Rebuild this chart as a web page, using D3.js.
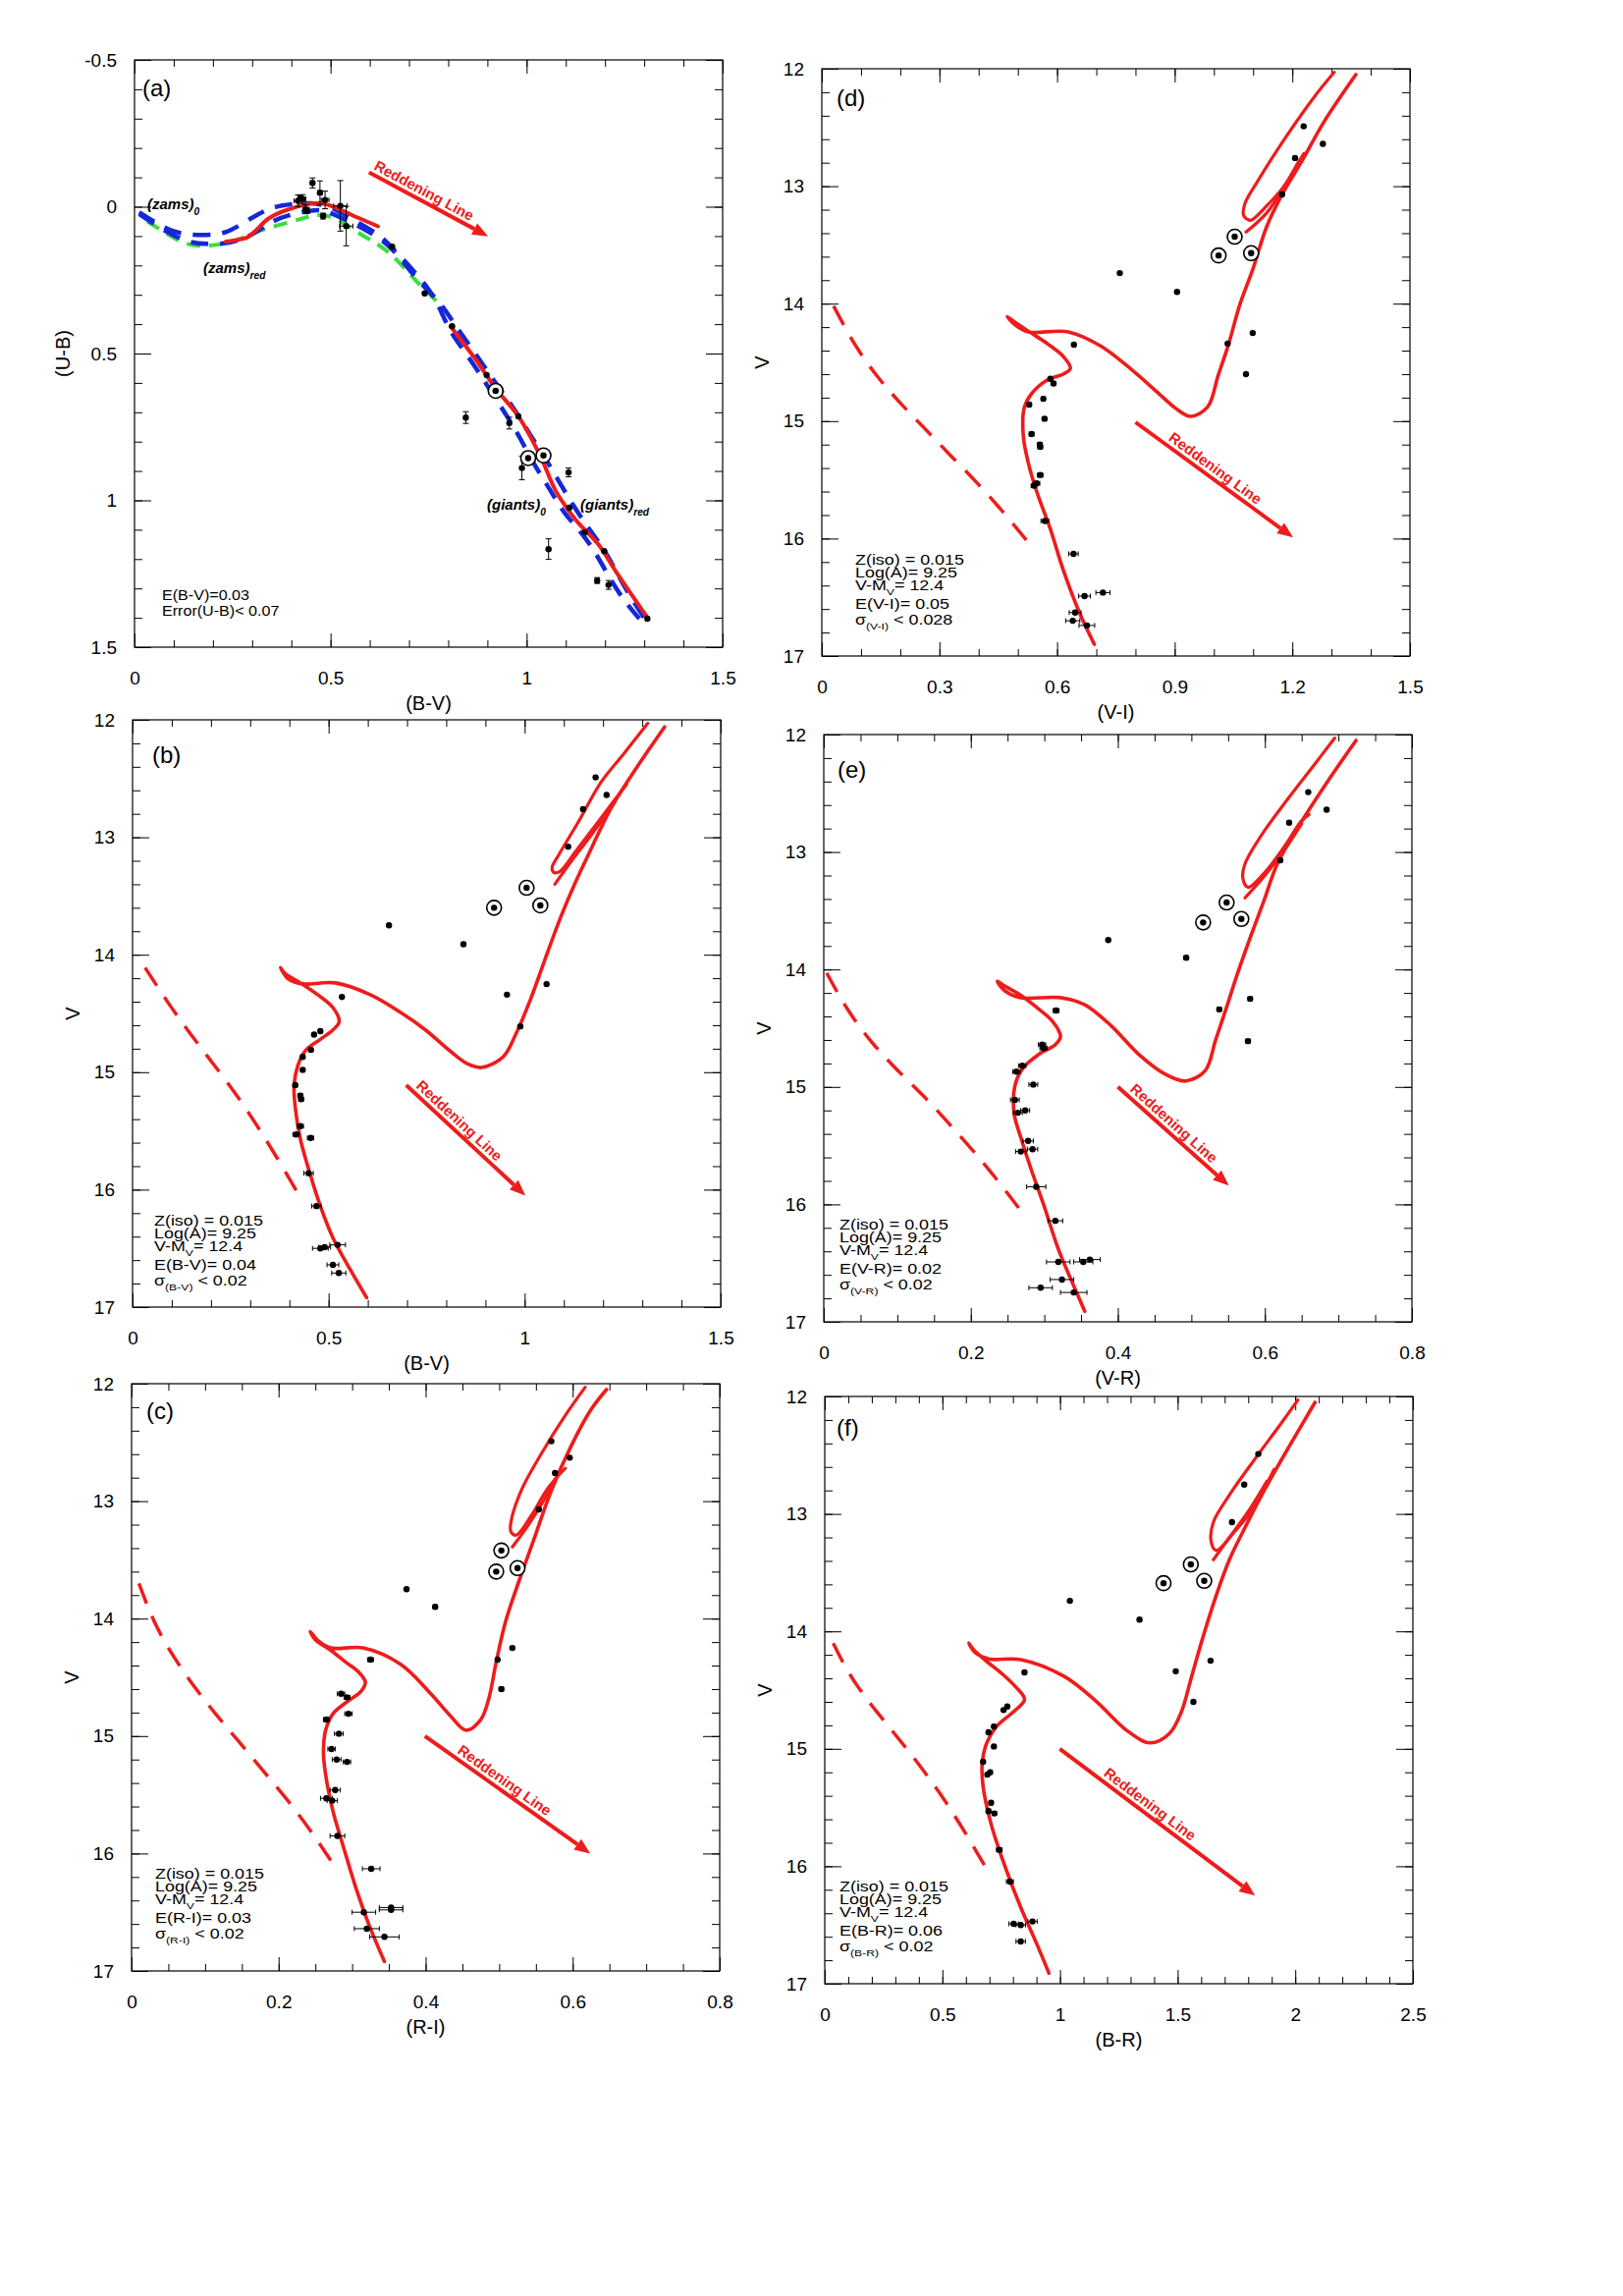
<!DOCTYPE html>
<html lang="en">
<head>
<meta charset="UTF-8">
<title>Two-colour and colour-magnitude diagrams</title>
<script src="https://d3js.org/d3.v7.min.js"></script>
<style>
  body { margin: 0; background: #fff; overflow: hidden; }
  text { font-family: "Liberation Sans", Arial, sans-serif; }
</style>
</head>
<body>
<svg width="1653" height="2338"></svg>
<script>
// ---------- panel (a): (U-B) vs (B-V) ----------
var zams0A = [[0.012,0.019],[0.045,0.047],[0.091,0.083],[0.133,0.095],[0.183,0.097],[0.229,0.093],[0.275,0.058],[0.316,0.024],[0.354,0.0],[0.4,-0.009],[0.45,-0.014],[0.5,-0.003],[0.567,0.052],[0.625,0.095],[0.65,0.13],[0.7,0.2],[0.755,0.285],[0.78,0.35],[0.806,0.43],[0.857,0.52],[0.902,0.614],[0.947,0.706],[0.985,0.79],[1.017,0.875],[1.062,0.967],[1.094,1.043],[1.138,1.105],[1.177,1.18],[1.215,1.273],[1.253,1.35],[1.298,1.419]];
var zams0bA = [[0.012,0.025],[0.05,0.06],[0.1,0.1],[0.15,0.125],[0.183,0.127],[0.229,0.127],[0.266,0.114],[0.291,0.102],[0.33,0.07],[0.354,0.047],[0.4,0.025],[0.45,0.013],[0.483,0.008],[0.55,0.052],[0.6,0.085],[0.66,0.14],[0.717,0.247],[0.78,0.323],[0.82,0.41],[0.87,0.5],[0.92,0.6],[0.97,0.69],[1.01,0.78],[1.045,0.85],[1.08,0.93],[1.12,1.02],[1.16,1.1],[1.2,1.17],[1.235,1.26],[1.27,1.34],[1.31,1.42]];
var zamsRedA = [[0.033,0.05],[0.08,0.09],[0.124,0.125],[0.162,0.136],[0.216,0.13],[0.266,0.114],[0.316,0.08],[0.4,0.052],[0.45,0.03],[0.5,0.024],[0.567,0.088],[0.62,0.125],[0.667,0.175],[0.717,0.253],[0.755,0.3],[0.793,0.354]];
var isoMsA = [[0.233,0.119],[0.265,0.112],[0.287,0.105],[0.31,0.08],[0.341,0.041],[0.391,0.01],[0.475,-0.012],[0.567,0.036],[0.621,0.067]];
var isoGiantA = [[0.806,0.407],[0.87,0.52],[0.92,0.617],[0.979,0.714],[1.036,0.852],[1.074,0.967],[1.125,1.066],[1.183,1.15],[1.228,1.243],[1.31,1.403]];
// [B-V, U-B, err(B-V), err(U-B)]
var starsA = [[0.417,-0.02,0.01,0.02],[0.429,-0.026,0.008,0.015],[0.423,-0.03,0.006,0.01],[0.436,0.009,0.005,0.015],[0.44,0.013,0,0.01],[0.454,-0.081,0.005,0.017],[0.473,-0.048,0.006,0.04],[0.486,-0.023,0.01,0.03],[0.481,0.032,0,0.01],[0.525,-0.003,0.017,0.086],[0.54,0.066,0.017,0.067],[0.657,0.136,0,0],[0.74,0.295,0,0],[0.81,0.407,0,0],[0.845,0.718,0,0.02],[0.898,0.573,0,0],[0.956,0.737,0,0.02],[0.979,0.714,0,0],[0.988,0.89,0,0.04],[1.056,1.166,0,0.035],[1.107,0.905,0,0.015],[1.109,1.025,0,0],[1.149,1.109,0,0],[1.18,1.273,0,0.01],[1.198,1.173,0,0],[1.209,1.288,0,0.015],[1.308,1.403,0,0]];
var clumpA = [[0.921,0.627],[1.004,0.856],[1.043,0.847]];
var arrowA = [[0.598,-0.117],[0.902,0.101]];
var xTicksA = [0, 0.5, 1, 1.5];
var yTicksA = [-0.5, 0, 0.5, 1, 1.5];
var noteA = ["E(B-V)=0.03", "Error(U-B)< 0.07"];

// ---------- common V axis ----------
var vTicks = [12, 13, 14, 15, 16, 17];

// ---------- panel (b): V vs (B-V) ----------
var isoB = [[0.597,16.92],[0.555,16.68],[0.511,16.41],[0.479,16.14],[0.453,15.87],[0.428,15.57],[0.415,15.30],[0.412,15.11],[0.421,14.95],[0.44,14.82],[0.479,14.72],[0.511,14.64],[0.527,14.57],[0.511,14.45],[0.472,14.34],[0.428,14.24],[0.389,14.16],[0.377,14.11],[0.395,14.2],[0.415,14.235],[0.44,14.25],[0.517,14.24],[0.606,14.34],[0.683,14.49],[0.747,14.64],[0.81,14.82],[0.855,14.93],[0.89,14.96],[0.945,14.87],[0.977,14.68],[1.015,14.38],[1.053,14.03],[1.092,13.68],[1.13,13.38],[1.168,13.11],[1.219,12.76],[1.283,12.42],[1.357,12.06]];
var loopB = [[1.314,12.03],[1.255,12.28],[1.195,12.53],[1.137,12.87],[1.087,13.15],[1.07,13.26],[1.075,13.30],[1.09,13.29],[1.13,13.12],[1.18,12.9],[1.23,12.68],[1.26,12.55]];
var tailB = [[1.077,13.40],[1.12,13.2],[1.17,12.98],[1.23,12.7]];
var zamsB = [[0.032,14.11],[0.1,14.46],[0.16,14.73],[0.22,14.99],[0.28,15.26],[0.33,15.52],[0.38,15.79],[0.43,16.08]];
var starsB = [[1.181,12.49,0],[1.209,12.64,0],[1.149,12.76,0],[1.111,13.08,0],[0.654,13.75,0],[0.844,13.91,0],[1.056,14.25,0],[0.955,14.34,0],[0.989,14.61,0],[0.534,14.36,0],[0.479,14.65,0.004],[0.463,14.68,0.004],[0.455,14.81,0.005],[0.434,14.87,0.005],[0.434,14.98,0.005],[0.415,15.11,0.005],[0.428,15.20,0.006],[0.43,15.23,0.006],[0.428,15.46,0.008],[0.417,15.53,0.008],[0.454,15.56,0.008],[0.449,15.86,0.012],[0.469,16.14,0.012],[0.479,16.50,0.02],[0.49,16.49,0.015],[0.523,16.47,0.02],[0.511,16.64,0.015],[0.526,16.71,0.018]];
var clumpB = [[1.005,13.43],[1.04,13.58],[0.922,13.60]];
var arrowB = [[0.698,15.11],[1.002,16.05]];
var xTicksB = [0, 0.5, 1, 1.5];
var noteB = ["Z(iso) = 0.015", "Log(A)= 9.25", "V-M_{V}= 12.4", "E(B-V)= 0.04", "σ_{(B-V)} < 0.02"];

// ---------- panel (c): V vs (R-I) ----------
var isoC = [[0.344,16.92],[0.325,16.64],[0.305,16.29],[0.288,15.94],[0.274,15.64],[0.264,15.33],[0.261,15.14],[0.264,14.95],[0.274,14.81],[0.295,14.70],[0.312,14.62],[0.318,14.54],[0.308,14.45],[0.291,14.37],[0.271,14.27],[0.25,14.18],[0.243,14.11],[0.254,14.19],[0.271,14.25],[0.315,14.25],[0.366,14.39],[0.407,14.64],[0.434,14.83],[0.455,14.95],[0.475,14.86],[0.486,14.68],[0.496,14.37],[0.509,14.02],[0.527,13.68],[0.547,13.33],[0.571,12.91],[0.598,12.53],[0.625,12.22],[0.646,12.05]];
var loopC = [[0.617,12.03],[0.591,12.26],[0.557,12.60],[0.53,12.91],[0.516,13.18],[0.516,13.26],[0.523,13.29],[0.544,13.12],[0.564,12.91],[0.581,12.78],[0.59,12.72]];
var tailC = [[0.518,13.39],[0.54,13.2],[0.56,13.0],[0.578,12.79]];
var zamsC = [[0.01,13.70],[0.029,14.02],[0.056,14.32],[0.085,14.58],[0.115,14.82],[0.145,15.04],[0.177,15.28],[0.209,15.52],[0.24,15.77],[0.271,16.06]];
var starsC = [[0.571,12.49,0],[0.596,12.63,0],[0.576,12.76,0],[0.554,13.07,0],[0.374,13.75,0],[0.413,13.90,0.003],[0.518,14.25,0],[0.498,14.35,0],[0.503,14.60,0.003],[0.325,14.35,0.004],[0.285,14.64,0.005],[0.293,14.67,0.004],[0.295,14.81,0.005],[0.265,14.86,0.004],[0.282,14.98,0.006],[0.272,15.11,0.005],[0.279,15.20,0.006],[0.293,15.22,0.005],[0.277,15.46,0.007],[0.265,15.53,0.008],[0.273,15.55,0.007],[0.28,15.85,0.01],[0.326,16.13,0.012],[0.353,16.46,0.016],[0.353,16.48,0.016],[0.316,16.50,0.016],[0.32,16.64,0.017],[0.344,16.71,0.02]];
var clumpC = [[0.503,13.42],[0.525,13.57],[0.496,13.60]];
var arrowC = [[0.399,15.00],[0.624,16.00]];
var xTicksC = [0, 0.2, 0.4, 0.6, 0.8];
var noteC = ["Z(iso) = 0.015", "Log(A)= 9.25", "V-M_{V}= 12.4", "E(R-I)= 0.03", "σ_{(R-I)} < 0.02"];

// ---------- panel (d): V vs (V-I) ----------
var isoD = [[0.695,16.90],[0.657,16.63],[0.616,16.27],[0.582,15.91],[0.548,15.60],[0.527,15.36],[0.514,15.13],[0.516,14.89],[0.534,14.77],[0.575,14.65],[0.616,14.60],[0.634,14.55],[0.616,14.45],[0.575,14.34],[0.534,14.25],[0.493,14.16],[0.473,14.11],[0.493,14.18],[0.527,14.24],[0.629,14.24],[0.711,14.36],[0.793,14.57],[0.861,14.77],[0.902,14.89],[0.94,14.96],[0.984,14.88],[1.011,14.61],[1.038,14.34],[1.065,14.02],[1.1,13.70],[1.134,13.35],[1.174,13.07],[1.222,12.80],[1.283,12.44],[1.362,12.05]];
var loopD = [[1.307,12.03],[1.256,12.24],[1.188,12.56],[1.113,12.95],[1.079,13.15],[1.076,13.25],[1.093,13.29],[1.134,13.17],[1.181,12.99],[1.215,12.80],[1.23,12.72]];
var tailD = [[1.082,13.39],[1.134,13.23],[1.18,13.0],[1.215,12.8]];
var zamsD = [[0.03,14.02],[0.084,14.36],[0.14,14.62],[0.2,14.85],[0.265,15.07],[0.33,15.30],[0.398,15.53],[0.462,15.77],[0.531,16.05]];
var starsD = [[1.229,12.49,0],[1.278,12.64,0],[1.207,12.76,0],[1.174,13.07,0],[0.76,13.74,0],[0.906,13.90,0],[1.099,14.25,0],[1.035,14.34,0],[1.082,14.60,0],[0.643,14.35,0],[0.583,14.64,0.004],[0.591,14.68,0.005],[0.565,14.81,0.005],[0.529,14.86,0.004],[0.568,14.98,0.005],[0.535,15.11,0.006],[0.556,15.20,0.006],[0.557,15.22,0.006],[0.557,15.46,0.007],[0.548,15.53,0.008],[0.541,15.55,0.007],[0.569,15.85,0.01],[0.642,16.13,0.012],[0.717,16.46,0.018],[0.67,16.49,0.015],[0.646,16.63,0.015],[0.64,16.70,0.018],[0.676,16.74,0.02]];
var clumpD = [[1.053,13.43],[1.095,13.57],[1.012,13.59]];
var arrowD = [[0.8,15.01],[1.202,15.99]];
var xTicksD = [0, 0.3, 0.6, 0.9, 1.2, 1.5];
var noteD = ["Z(iso) = 0.015", "Log(A)= 9.25", "V-M_{V}= 12.4", "E(V-I)= 0.05", "σ_{(V-I)} < 0.028"];

// ---------- panel (e): V vs (V-R) ----------
var isoE = [[0.355,16.91],[0.337,16.65],[0.319,16.38],[0.3,16.02],[0.282,15.70],[0.268,15.43],[0.259,15.23],[0.26,14.99],[0.271,14.84],[0.293,14.72],[0.315,14.64],[0.322,14.57],[0.311,14.44],[0.289,14.32],[0.268,14.22],[0.246,14.14],[0.236,14.10],[0.246,14.18],[0.268,14.24],[0.322,14.24],[0.355,14.30],[0.391,14.48],[0.428,14.72],[0.464,14.89],[0.492,14.95],[0.519,14.86],[0.533,14.60],[0.548,14.32],[0.562,14.05],[0.58,13.73],[0.599,13.41],[0.617,13.10],[0.646,12.78],[0.682,12.43],[0.724,12.05]];
var loopE = [[0.695,12.03],[0.668,12.25],[0.631,12.55],[0.595,12.86],[0.573,13.10],[0.57,13.22],[0.577,13.30],[0.599,13.18],[0.628,12.94],[0.649,12.74],[0.66,12.68]];
var tailE = [[0.573,13.39],[0.6,13.2],[0.63,12.95],[0.65,12.76]];
var zamsE = [[0.004,14.03],[0.03,14.33],[0.064,14.62],[0.1,14.86],[0.137,15.08],[0.17,15.31],[0.203,15.54],[0.236,15.79],[0.27,16.07]];
var starsE = [[0.659,12.49,0],[0.684,12.64,0],[0.633,12.75,0],[0.621,13.07,0],[0.387,13.75,0],[0.493,13.90,0.003],[0.58,14.25,0.003],[0.538,14.34,0.003],[0.577,14.61,0.003],[0.316,14.35,0.004],[0.297,14.64,0.005],[0.299,14.67,0.005],[0.27,14.82,0.005],[0.262,14.87,0.005],[0.285,14.98,0.006],[0.26,15.11,0.006],[0.274,15.20,0.006],[0.264,15.22,0.006],[0.278,15.46,0.007],[0.284,15.53,0.007],[0.268,15.55,0.007],[0.289,15.85,0.013],[0.315,16.14,0.01],[0.362,16.47,0.014],[0.353,16.49,0.013],[0.319,16.49,0.016],[0.324,16.64,0.016],[0.295,16.71,0.016],[0.34,16.75,0.018]];
var clumpE = [[0.548,13.43],[0.568,13.57],[0.516,13.60]];
var arrowE = [[0.4,15.0],[0.551,15.84]];
var xTicksE = [0, 0.2, 0.4, 0.6, 0.8];
var noteE = ["Z(iso) = 0.015", "Log(A)= 9.25", "V-M_{V}= 12.4", "E(V-R)= 0.02", "σ_{(V-R)} < 0.02"];

// ---------- panel (f): V vs (B-R) ----------
var isoF = [[0.953,16.91],[0.901,16.66],[0.833,16.35],[0.764,15.99],[0.707,15.64],[0.673,15.32],[0.669,15.13],[0.685,14.97],[0.73,14.81],[0.799,14.69],[0.849,14.58],[0.81,14.47],[0.753,14.36],[0.685,14.25],[0.63,14.15],[0.612,14.10],[0.639,14.18],[0.696,14.235],[0.833,14.24],[1.015,14.38],[1.151,14.59],[1.288,14.85],[1.383,14.95],[1.465,14.87],[1.515,14.69],[1.56,14.38],[1.606,14.06],[1.663,13.70],[1.72,13.39],[1.788,13.11],[1.868,12.80],[1.97,12.44],[2.084,12.05]];
var loopF = [[2.011,12.03],[1.936,12.24],[1.833,12.52],[1.72,12.84],[1.652,13.07],[1.642,13.23],[1.663,13.31],[1.743,13.15],[1.833,12.92],[1.89,12.70],[1.91,12.62]];
var tailF = [[1.652,13.39],[1.72,13.2],[1.8,12.98],[1.88,12.72]];
var zamsF = [[0.036,14.10],[0.07,14.24],[0.127,14.44],[0.218,14.68],[0.309,14.9],[0.4,15.13],[0.491,15.38],[0.582,15.66],[0.696,16.05]];
var starsF = [[1.843,12.49,0],[1.783,12.75,0],[1.731,13.07,0],[1.042,13.74,0],[1.338,13.90,0],[1.64,14.25,0],[1.492,14.34,0],[1.567,14.60,0],[0.849,14.35,0],[0.776,14.64,0.006],[0.76,14.67,0.006],[0.719,14.81,0.006],[0.696,14.86,0.006],[0.719,14.98,0.007],[0.673,15.11,0.007],[0.703,15.20,0.008],[0.691,15.22,0.008],[0.707,15.46,0.008],[0.696,15.53,0.009],[0.721,15.55,0.009],[0.742,15.86,0.012],[0.787,16.13,0.015],[0.883,16.47,0.02],[0.803,16.49,0.02],[0.833,16.50,0.02],[0.833,16.64,0.02]];
var clumpF = [[1.556,13.43],[1.613,13.57],[1.44,13.59]];
var arrowF = [[0.999,15.0],[1.829,16.25]];
var xTicksF = [0, 0.5, 1, 1.5, 2, 2.5];
var noteF = ["Z(iso) = 0.015", "Log(A)= 9.25", "V-M_{V}= 12.4", "E(B-R)= 0.06", "σ_{(B-R)} < 0.02"];

// ---------- layout ----------
var RED = "#ee1c1c";
var W = 599, H = 598;
var svg = d3.select("svg");

function steps(dom, step) {
  var n = Math.round((dom[1] - dom[0]) / step);
  return d3.range(n + 1).map(function (i) { return +(dom[0] + i * step).toFixed(6); });
}

// inward ticks on all four sides, labels on left and bottom
function makePanel(p) {
  var g = svg.append("g").attr("transform", `translate(${p.left},${p.top})`);
  var x = d3.scaleLinear().domain(p.xDom).range([0, W]);
  var y = d3.scaleLinear().domain(p.yDom).range([0, H]);
  var xm = steps(p.xDom, p.xStep), ym = steps(p.yDom, p.yStep);

  function tickSet(axis, scale, values, len, tr) {
    g.append("g").attr("transform", tr)
      .call(axis(scale).tickValues(values).tickSize(-len).tickSizeOuter(0).tickFormat(""))
      .call(function (s) { s.select(".domain").remove(); });
  }
  [[xm, 7], [p.xTicks, 14]].forEach(function (t) {
    tickSet(d3.axisBottom, x, t[0], t[1], `translate(0,${H})`);
    tickSet(d3.axisTop, x, t[0], t[1], "translate(0,0)");
  });
  [[ym, 8], [p.yTicks, 17]].forEach(function (t) {
    tickSet(d3.axisLeft, y, t[0], t[1], "translate(0,0)");
    tickSet(d3.axisRight, y, t[0], t[1], `translate(${W},0)`);
  });

  g.append("g").attr("transform", `translate(0,${H})`)
    .call(d3.axisBottom(x).tickValues(p.xTicks).tickSize(0).tickPadding(25).tickFormat(String))
    .call(function (s) { s.select(".domain").remove(); })
    .attr("font-size", 19).attr("font-family", "Liberation Sans, Arial, sans-serif");
  g.append("g")
    .call(d3.axisLeft(y).tickValues(p.yTicks).tickSize(0).tickPadding(18).tickFormat(String))
    .call(function (s) { s.select(".domain").remove(); })
    .attr("font-size", 19).attr("font-family", "Liberation Sans, Arial, sans-serif");

  g.append("rect").attr("width", W).attr("height", H)
    .attr("fill", "none").attr("stroke", "#000").attr("stroke-width", 1.2);

  g.append("text").attr("x", W / 2).attr("y", H + 64).attr("text-anchor", "middle")
    .attr("font-size", 20).text(p.xTitle);
  g.append("text").attr("transform", `translate(${p.yTitleOff},${H / 2}) rotate(-90)`)
    .attr("text-anchor", "middle").attr("dy", "0.35em").attr("font-size", 20).text(p.yTitle);
  g.append("text").attr("x", p.lab[0]).attr("y", p.lab[1]).attr("font-size", 24)
    .text("(" + p.id + ")");
  return { g: g, x: x, y: y };
}

// text with _{...} subscripts
function rich(sel, str, size) {
  var shift = 0;
  str.split(/(_\{[^}]*\})/).filter(function (s) { return s.length; }).forEach(function (s) {
    var m = s.match(/^_\{(.*)\}$/);
    if (m) {
      sel.append("tspan").attr("font-size", size * 0.68).attr("dy", size * 0.38).text(m[1]);
      shift = size * 0.38;
    } else {
      sel.append("tspan").attr("dy", -shift).text(s);
      shift = 0;
    }
  });
  return sel;
}

function note(g, x0, y0, lines, offs, size, stretch) {
  var t = g.append("g").attr("transform", `translate(${x0},${y0}) scale(${stretch},1)`);
  lines.forEach(function (ln, i) {
    var txt = t.append("text").attr("y", offs[i]).attr("font-size", size);
    if (ln.charAt(0) === "σ") txt.attr("font-family", "Liberation Serif, Times New Roman, serif");
    rich(txt, ln, size);
  });
}

function curve(g, x, y, pts, color, width, dash) {
  var line = d3.line().x(function (d) { return x(d[0]); }).y(function (d) { return y(d[1]); })
    .curve(dash ? d3.curveBasis : d3.curveCatmullRom.alpha(0.5));
  g.append("path").datum(pts).attr("d", line).attr("fill", "none")
    .attr("stroke", color).attr("stroke-width", width)
    .attr("stroke-linejoin", "round").attr("stroke-linecap", dash ? "butt" : "round")
    .attr("stroke-dasharray", dash || null);
}

function arrow(g, x, y, a, along) {
  var x1 = x(a[0][0]), y1 = y(a[0][1]), x2 = x(a[1][0]), y2 = y(a[1][1]);
  var L = Math.hypot(x2 - x1, y2 - y1), ux = (x2 - x1) / L, uy = (y2 - y1) / L;
  var bx = x2 - ux * 16, by = y2 - uy * 16;
  g.append("line").attr("x1", x1).attr("y1", y1).attr("x2", bx).attr("y2", by)
    .attr("stroke", RED).attr("stroke-width", 4);
  g.append("path").attr("fill", RED)
    .attr("d", `M${x2},${y2}L${bx + uy * 6.5},${by - ux * 6.5}L${bx - uy * 6.5},${by + ux * 6.5}Z`);
  var ang = Math.atan2(y2 - y1, x2 - x1) * 180 / Math.PI;
  var tx = x1 + ux * along + uy * 5, ty = y1 + uy * along - ux * 5;
  g.append("text").attr("transform", `translate(${tx},${ty}) rotate(${ang})`)
    .attr("font-size", 15).attr("font-weight", "bold").attr("fill", RED).text("Reddening Line");
}

function stars(g, x, y, data, clump) {
  var hb = data.filter(function (d) { return d[2] > 0; });
  var vb = data.filter(function (d) { return d[3] > 0; });
  var eb = g.append("g").attr("stroke", "#000").attr("stroke-width", 1);
  eb.selectAll(".h").data(hb).join("path").attr("class", "h")
    .attr("d", function (d) {
      var a = x(d[0] - d[2]), b = x(d[0] + d[2]), c = y(d[1]);
      return `M${a},${c}H${b}M${a},${c - 2.5}V${c + 2.5}M${b},${c - 2.5}V${c + 2.5}`;
    });
  eb.selectAll(".v").data(vb).join("path").attr("class", "v")
    .attr("d", function (d) {
      var a = y(d[1] - d[3]), b = y(d[1] + d[3]), c = x(d[0]);
      return `M${c},${a}V${b}M${c - 3},${a}H${c + 3}M${c - 3},${b}H${c + 3}`;
    });
  g.selectAll(".star").data(data).join("circle").attr("class", "star")
    .attr("cx", function (d) { return x(d[0]); }).attr("cy", function (d) { return y(d[1]); })
    .attr("r", 3.2).attr("fill", "#000");
  var c = g.selectAll(".clump").data(clump).join("g").attr("class", "clump")
    .attr("transform", function (d) { return `translate(${x(d[0])},${y(d[1])})`; });
  c.append("circle").attr("r", 7.5).attr("fill", "#fff").attr("stroke", "#000").attr("stroke-width", 1.6);
  c.append("circle").attr("r", 3.2).attr("fill", "#000");
}

var noteOffs = [0, 13, 26, 45, 61];

// panel (a)
(function () {
  var P = makePanel({ id: "a", left: 137, top: 61, xDom: [0, 1.5], yDom: [-0.5, 1.5], xStep: 0.1, yStep: 0.1,
    xTicks: xTicksA, yTicks: yTicksA, xTitle: "(B-V)", yTitle: "(U-B)", yTitleOff: -73, lab: [8, 37] });
  var g = P.g, x = P.x, y = P.y;
  curve(g, x, y, zamsRedA, "#3ddc3d", 4, "14,9");
  curve(g, x, y, zams0A, "#1428d8", 4.5, "18,12");
  curve(g, x, y, zams0bA, "#1428d8", 4.5, "18,12");
  curve(g, x, y, isoMsA, RED, 4);
  curve(g, x, y, isoGiantA, RED, 4);
  arrow(g, x, y, arrowA, 2);
  stars(g, x, y, starsA, clumpA);
  var lbl = [["(zams)_{0}", 13, 152], ["(zams)_{red}", 70, 217], ["(giants)_{0}", 359, 458], ["(giants)_{red}", 454, 458]];
  lbl.forEach(function (l) {
    rich(g.append("text").attr("x", l[1]).attr("y", l[2]).attr("font-size", 15)
      .attr("font-weight", "bold").attr("font-style", "italic"), l[0], 15);
  });
  note(g, 28, H - 48, noteA, [0, 16], 14, 1.15);
})();

// panels (b)-(f)
var cmds = [
  { id: "b", left: 135, top: 733, xDom: [0, 1.5], xStep: 0.1, xTicks: xTicksB, xTitle: "(B-V)", lab: [20, 44],
    iso: isoB, loop: loopB, tail: tailB, zams: zamsB, stars: starsB, clump: clumpB, arrow: arrowB, along: 8,
    note: noteB, noteAt: [22, -83] },
  { id: "c", left: 134, top: 1409, xDom: [0, 0.8], xStep: 0.05, xTicks: xTicksC, xTitle: "(R-I)", lab: [15, 36],
    iso: isoC, loop: loopC, tail: tailC, zams: zamsC, stars: starsC, clump: clumpC, arrow: arrowC, along: 36,
    note: noteC, noteAt: [24, -94] },
  { id: "d", left: 837, top: 70, xDom: [0, 1.5], xStep: 0.1, xTicks: xTicksD, xTitle: "(V-I)", lab: [15, 38],
    iso: isoD, loop: loopD, tail: tailD, zams: zamsD, stars: starsD, clump: clumpD, arrow: arrowD, along: 37,
    note: noteD, noteAt: [34, -93] },
  { id: "e", left: 839, top: 748, xDom: [0, 0.8], xStep: 0.05, xTicks: xTicksE, xTitle: "(V-R)", lab: [14, 44],
    iso: isoE, loop: loopE, tail: tailE, zams: zamsE, stars: starsE, clump: clumpE, arrow: arrowE, along: 11,
    note: noteE, noteAt: [16, -94] },
  { id: "f", left: 840, top: 1422, xDom: [0, 2.5], xStep: 0.1, xTicks: xTicksF, xTitle: "(B-R)", lab: [12, 40],
    iso: isoF, loop: loopF, tail: tailF, zams: zamsF, stars: starsF, clump: clumpF, arrow: arrowF, along: 51,
    note: noteF, noteAt: [15, -94] }
];

cmds.forEach(function (p) {
  p.yDom = [12, 17]; p.yStep = 0.2; p.yTicks = vTicks; p.yTitle = "V"; p.yTitleOff = -61;
  var P = makePanel(p);
  var g = P.g, x = P.x, y = P.y;
  curve(g, x, y, p.zams, RED, 3.5, "22,14");
  curve(g, x, y, p.iso, RED, 3.6);
  curve(g, x, y, p.loop, RED, 3.2);
  curve(g, x, y, p.tail, RED, 3.2);
  arrow(g, x, y, p.arrow, p.along);
  stars(g, x, y, p.stars.map(function (s) { return [s[0], s[1], s[2], 0]; }), p.clump);
  note(g, p.noteAt[0], H + p.noteAt[1], p.note, noteOffs, 14, 1.28);
});
</script>
</body>
</html>
